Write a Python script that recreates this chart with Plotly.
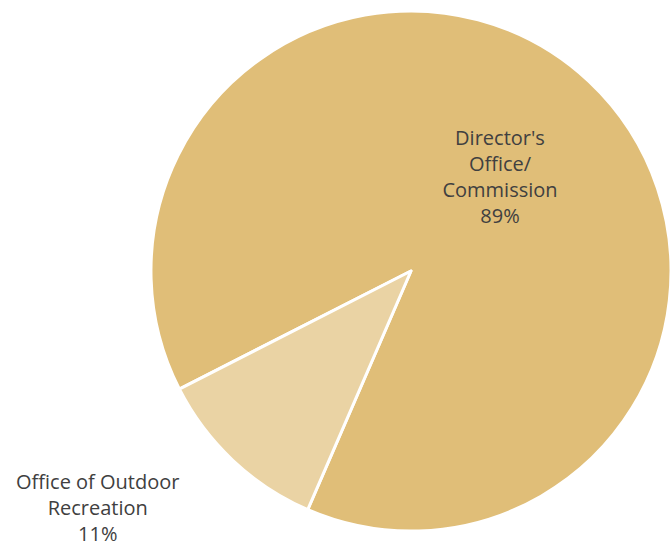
import plotly.graph_objects as go

# Budget share by office
labels = ["Director's Office/ Commission", "Office of Outdoor Recreation"]
display_labels = ["Director's<br>Office/<br>Commission", "Office of Outdoor<br>Recreation"]
values = [89, 11]
colors = ["#E0BE78", "#EAD3A4"]

total = sum(values)
pct = [f"{round(v / total * 100)}%" for v in values]

fig = go.Figure()
fig.add_trace(go.Pie(
    labels=labels,
    values=values,
    text=display_labels,
    sort=False,
    direction="clockwise",
    rotation=243,
    marker=dict(colors=colors, line=dict(color="white", width=3)),
    texttemplate=["%{text}<br>%{percent:.0%}", ""],
    textposition=["inside", "none"],
    insidetextorientation="horizontal",
    textfont=dict(family="Open Sans", size=20, color="#404040"),
    hoverinfo="label+percent",
    showlegend=False,
    domain=dict(x=[0.225, 1.0], y=[0.0, 1.0]),
))

# Label for the small slice, set outside the pie
fig.add_annotation(
    x=0.145, y=0.046, xref="paper", yref="paper",
    xanchor="center", yanchor="middle",
    text=f"{display_labels[1]}<br>{pct[1]}",
    showarrow=False,
    font=dict(family="Open Sans", size=20, color="#404040"),
    align="center",
)

fig.update_layout(
    width=671,
    height=550,
    margin=dict(l=0, r=0, t=10, b=18),
    paper_bgcolor="white",
    plot_bgcolor="white",
)

fig.write_html("out.html")
